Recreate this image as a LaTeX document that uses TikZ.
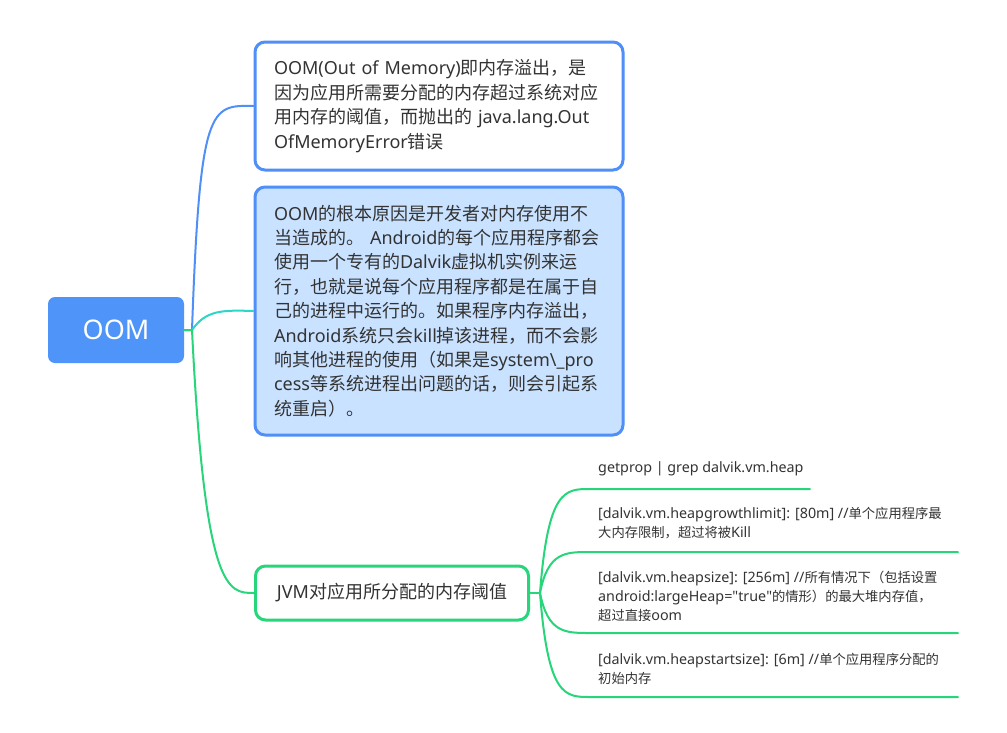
\documentclass[tikz,border=0pt]{standalone}
\usepackage{fontspec}
\setmainfont{Noto Sans}
\newfontfamily\cjk{Noto Sans CJK SC}
\newfontfamily\plainq{Noto Sans}
\newcommand\zh[1]{{\cjk #1}}
\newcommand\zs[1]{{\cjk\fontsize{13.3}{19}\selectfont #1}}
\newcommand\dq{{\plainq\char34}}
\definecolor{oomblue}{HTML}{4F94F9}
\definecolor{lineblue}{HTML}{4F8FF7}
\definecolor{lightfill}{HTML}{C9E2FF}
\definecolor{cyanline}{HTML}{2DD6C8}
\definecolor{greenline}{HTML}{27D67A}
\definecolor{txtgray}{HTML}{333333}
\tikzset{
  rootbox/.style={draw=none, fill=oomblue, rounded corners=7pt, text=white,
    font=\fontsize{27}{30}\selectfont, minimum width=136pt, minimum height=66pt, inner sep=0pt},
  bigbox/.style={draw=lineblue, line width=3pt, rounded corners=10pt, text=txtgray,
    font=\fontsize{18}{24.4}\selectfont, align=left, text width=330pt, inner xsep=19pt,
    minimum width=368pt},
  jvmbox/.style={draw=greenline, line width=3pt, rounded corners=10pt, text=txtgray, fill=white,
    font=\fontsize{18}{22}\selectfont, minimum width=273pt, minimum height=54pt, inner sep=0pt},
  leaftxt/.style={anchor=west, inner sep=0pt, text=txtgray, align=left,
    font=\fontsize{14.3}{19}\selectfont},
  conn/.style={line width=2pt, line cap=round},
}
\begin{document}
\begin{tikzpicture}[x=1pt,y=-1pt]
\useasboundingbox (0,0) rectangle (1007,732);
\fill[white] (0,0) rectangle (1007,732);

% nodes
\node[rootbox] (root) at (116,330) {OOM};
\node[bigbox, fill=white, minimum height=128pt] (b1) at (439,106)
 {OOM(Out of Memory)\zh{即内存溢出，是}\\\zh{因为应用所需要分配的内存超过系统对应}\\\zh{用内存的阈值，而抛出的} java.lang.Out\\OfMemoryError\zh{错误}};
\node[bigbox, fill=lightfill, minimum height=248pt] (b2) at (439,311)
 {OOM\zh{的根本原因是开发者对内存使用不}\\\zh{当造成的。} Android\zh{的每个应用程序都会}\\\zh{使用一个专有的}Dalvik\zh{虚拟机实例来运}\\\zh{行，也就是说每个应用程序都是在属于自}\\\zh{己的进程中运行的。如果程序内存溢出，}\\Android\zh{系统只会}kill\zh{掉该进程，而不会影}\\\zh{响其他进程的使用（如果是}system\textbackslash\_pro\\cess\zh{等系统进程出问题的话，则会引起系}\\\zh{统重启）。}};
\node[jvmbox] (jvm) at (392,593) {JVM\zh{对应用所分配的内存阈值}};

\node[leaftxt] (l1) at (598,469) {getprop | grep dalvik.vm.heap};
\node[leaftxt] (l2) at (598,523.5) {[dalvik.vm.heapgrowthlimit]: [80m] //\zs{单个应用程序最}\\\zs{大内存限制，超过将被}Kill};
\node[leaftxt] (l3) at (598,596) {[dalvik.vm.heapsize]: [256m] //\zs{所有情况下（包括设置}\\android:largeHeap=\dq true\dq\zs{的情形）的最大堆内存值，}\\\zs{超过直接}oom};
\node[leaftxt] (l4) at (598,669) {[dalvik.vm.heapstartsize]: [6m] //\zs{单个应用程序分配的}\\\zs{初始内存}};

% junction coordinates
\coordinate (j0) at (192,330);
\coordinate (j1) at (540,593);
\coordinate (u1s) at (590,489); \coordinate (u1e) at (810,489);
\coordinate (u2s) at (590,552); \coordinate (u2e) at (958,552);
\coordinate (u3s) at (590,633); \coordinate (u3e) at (958,633);
\coordinate (u4s) at (590,697); \coordinate (u4e) at (958,697);

% root connectors
\draw[conn, lineblue] (root.east) -- (j0) .. controls (200,105) and (210,105) .. (b1.west);
\draw[conn, cyanline] (j0) .. controls (206,310) and (222,310) .. (b2.west);
\draw[conn, greenline] (root.east) -- (j0) .. controls (205,593) and (228,593) .. (jvm.west);

% jvm connectors
\draw[conn, greenline] (jvm.east) -- (j1);
\draw[conn, greenline] (j1) .. controls (548,489) and (565,489) .. (u1s) -- (u1e);
\draw[conn, greenline] (j1) .. controls (548,552) and (565,552) .. (u2s) -- (u2e);
\draw[conn, greenline] (j1) .. controls (548,633) and (565,633) .. (u3s) -- (u3e);
\draw[conn, greenline] (j1) .. controls (548,697) and (565,697) .. (u4s) -- (u4e);
\end{tikzpicture}
\end{document}
